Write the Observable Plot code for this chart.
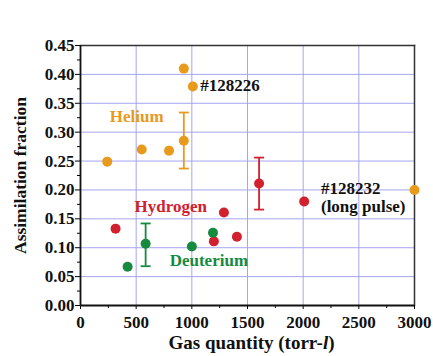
<!DOCTYPE html>
<html><head><meta charset="utf-8">
<script src="https://cdn.jsdelivr.net/npm/d3@7"></script>
<script src="https://cdn.jsdelivr.net/npm/@observablehq/plot@0.6"></script>
<style>
body{margin:0;background:#fff;}
#chart svg, #chart svg text{font-family:"Liberation Serif","Times New Roman",serif;font-weight:bold;}
</style>
</head><body><div id="chart"></div>
<script>
const heliumX = [240, 550, 795, 928, 928, 1009, 3000];
const heliumY = [0.249, 0.270, 0.268, 0.285, 0.410, 0.379, 0.200];
const hydrogenX = [315, 1198, 1288, 1405, 1604, 2009];
const hydrogenY = [0.133, 0.111, 0.161, 0.119, 0.211, 0.180];
const deuteriumX = [423, 585, 1000, 1190];
const deuteriumY = [0.067, 0.107, 0.102, 0.126];
// error bars: series, x, low, high
const errSeries = ["Helium", "Hydrogen", "Deuterium"];
const errX = [928, 1604, 585];
const errLo = [0.237, 0.166, 0.068];
const errHi = [0.334, 0.256, 0.142];
// labels
const labelText = ["#128226", "Helium", "Hydrogen", "Deuterium", "#128232", "(long pulse)"];
const labelX = [1075, 505, 811, 1153, 2160, 2160];
const labelY = [0.381, 0.327, 0.171, 0.078, 0.202, 0.172];
const labelSeries = ["note", "Helium", "Hydrogen", "Deuterium", "note", "note"];
const labelAnchor = ["start", "middle", "middle", "middle", "start", "start"];
const xTicks = [0, 500, 1000, 1500, 2000, 2500, 3000];
const yTicks = [0, 0.05, 0.10, 0.15, 0.20, 0.25, 0.30, 0.35, 0.40, 0.45];
const xMinor = [250, 750, 1250, 1750, 2250, 2750];
const yMinor = [0.025, 0.075, 0.125, 0.175, 0.225, 0.275, 0.325, 0.375, 0.425];

const colors = {Helium: "#e89a1c", Hydrogen: "#d2202e", Deuterium: "#168a3e", note: "#111"};
const serif = "Liberation Serif";

const pts = [
  ...heliumX.map((x, i) => ({s: "Helium", x, y: heliumY[i]})),
  ...hydrogenX.map((x, i) => ({s: "Hydrogen", x, y: hydrogenY[i]})),
  ...deuteriumX.map((x, i) => ({s: "Deuterium", x, y: deuteriumY[i]}))
];
const errs = errX.map((x, i) => ({s: errSeries[i], x, lo: errLo[i], hi: errHi[i]}));
const caps = errs.flatMap(d => [{s: d.s, x: d.x, y: d.lo}, {s: d.s, x: d.x, y: d.hi}]);
const labels = labelText.map((t, i) => ({t, x: labelX[i], y: labelY[i], s: labelSeries[i], a: labelAnchor[i]}));

const cap = {draw(ctx, size) { const w = Math.sqrt(size / Math.PI); ctx.moveTo(-w, 0); ctx.lineTo(w, 0); }};

const chart = Plot.plot({
  width: 433, height: 356,
  marginLeft: 80, marginRight: 19, marginTop: 45, marginBottom: 51,
  style: {fontFamily: "Liberation Serif, serif", fontWeight: "bold", background: "#fff"},
  x: {domain: [0, 3000]},
  y: {domain: [0, 0.45]},
  marks: [
    Plot.gridX(xTicks.slice(1, -1), {stroke: "#a4a4f2", strokeOpacity: 1, strokeWidth: 1}),
    Plot.gridY(yTicks.slice(1, -1), {stroke: "#a4a4f2", strokeOpacity: 1, strokeWidth: 1}),
    Plot.frame({anchor: "top", stroke: "#333", strokeWidth: 1.5}),
    Plot.frame({anchor: "right", stroke: "#333", strokeWidth: 1.5}),
    Plot.axisX({ticks: xTicks, tickSize: 4, tickPadding: 6, fontSize: 17, fontFamily: serif, fill: "#111", tickFormat: d3.format("d"), label: null}),
    Plot.axisY({ticks: yTicks, tickSize: 5, tickPadding: 1, fontSize: 17, fontFamily: serif, fill: "#111", tickFormat: d3.format(".2f"), label: null}),
    Plot.axisX({ticks: xMinor, tickSize: 3, text: null, label: null}),
    Plot.axisY({ticks: yMinor, tickSize: 3, text: null, label: null}),
    Plot.ruleX([0], {stroke: "#111", strokeWidth: 1.8}),
    Plot.ruleY([0], {stroke: "#111", strokeWidth: 1.8}),
    Plot.ruleX(errs, {x: "x", y1: "lo", y2: "hi", stroke: d => colors[d.s], strokeWidth: 1.8}),
    Plot.dot(caps, {x: "x", y: "y", symbol: cap, r: 5, stroke: d => colors[d.s], strokeWidth: 1.8}),
    Plot.dot(pts, {x: "x", y: "y", r: 5, fill: d => colors[d.s], stroke: "none"}),
    Plot.text(labels, {x: "x", y: "y", text: "t", fill: d => colors[d.s], textAnchor: "start", fontSize: 17, fontFamily: serif, fontWeight: "bold", filter: d => d.a === "start"}),
    Plot.text(labels, {x: "x", y: "y", text: "t", fill: d => colors[d.s], textAnchor: "middle", fontSize: 17, fontFamily: serif, fontWeight: "bold", filter: d => d.a === "middle"}),
    Plot.text(["Gas quantity (torr-"], {frameAnchor: "bottom", textAnchor: "middle", text: d => d, dy: 43, dx: 4, fontSize: 19, fontFamily: serif, fill: "#111"}),
    Plot.text(["Assimilation fraction"], {frameAnchor: "left", textAnchor: "middle", text: d => d, rotate: -90, dx: -60, dy: 0, fontSize: 17.5, fontFamily: serif, fill: "#111"})
  ]
});
document.getElementById("chart").appendChild(chart);

// italicize the "l" in the x title
const svg = d3.select(chart);
svg.selectAll("text").each(function() {
  const t = d3.select(this);
  if (t.text() === "Gas quantity (torr-") {
    t.append("tspan").attr("font-style", "italic").text("l");
    t.append("tspan").text(")");
  }
});
</script>
</body></html>
